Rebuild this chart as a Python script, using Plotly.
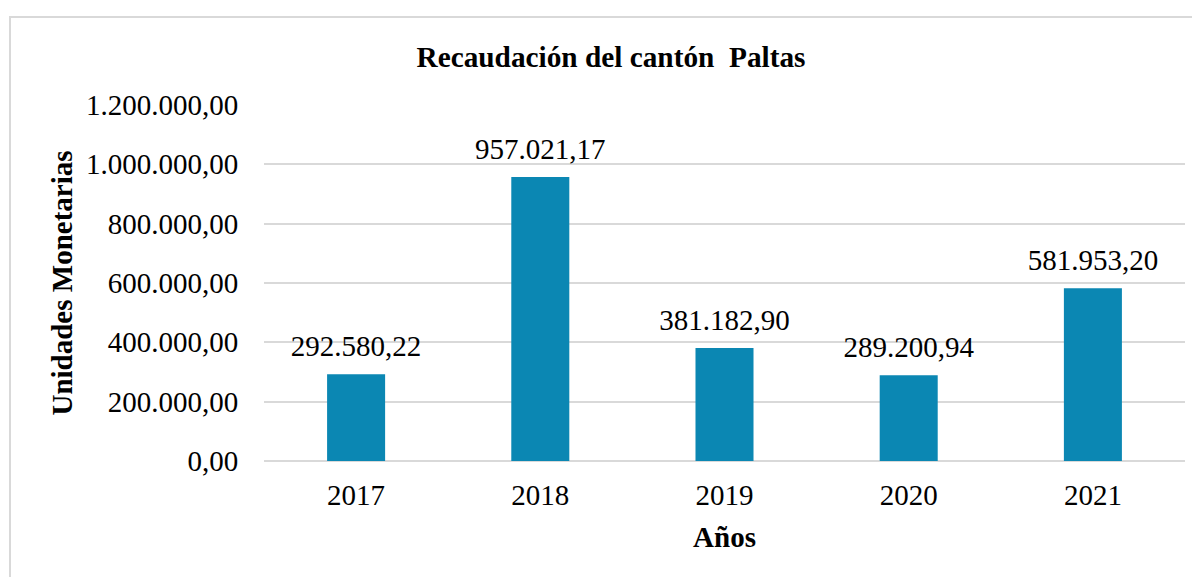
import plotly.graph_objects as go

years = ["2017", "2018", "2019", "2020", "2021"]
values = [292580.22, 957021.17, 381182.90, 289200.94, 581953.20]
tick_vals = [0, 200000, 400000, 600000, 800000, 1000000, 1200000]

FONT = "Liberation Serif, Times New Roman, serif"
BAR = "#0B87B3"
GRID = "#d9d9d9"
OFF = 8  # page body margin

fig = go.Figure()
fig.add_trace(go.Bar(
    x=years, y=values,
    marker=dict(color=BAR, line=dict(width=0)),
    hoverinfo="skip",
))
fig.add_trace(go.Scatter(
    x=years, y=values, mode="markers+text",
    marker=dict(size=16, color="rgba(0,0,0,0)"),
    texttemplate="%{y:,.2f}", textposition="top center",
    textfont=dict(family=FONT, size=29, color="#000000"),
    cliponaxis=False, hoverinfo="skip",
))

W, H = 1200, 577
L, T = 264 - OFF, 105 - OFF
pw, ph = 921, 356
R = W - L - pw
B = H - T - ph

fig.update_layout(
    width=W, height=H,
    margin=dict(l=L, r=R, t=T, b=B),
    paper_bgcolor="white", plot_bgcolor="white",
    separators=",.",
    bargap=0.685,
    showlegend=False,
    font=dict(family=FONT, color="#000000"),
    title=dict(text="<b>Recaudación del cantón&nbsp; Paltas</b>", x=(611 - OFF) / W, xanchor="center",
               y=1 - (57 - OFF) / H, yanchor="middle",
               font=dict(family=FONT, size=29.3, color="#000000")),
    xaxis=dict(showgrid=False, showline=False, ticks="outside", ticklen=8, tickcolor="rgba(0,0,0,0)",
               tickfont=dict(family=FONT, size=29, color="#000000"),
               title=dict(text="<b>Años</b>", font=dict(family=FONT, size=29, color="#000000"), standoff=16)),
    yaxis=dict(range=[0, 1200000], tickvals=tick_vals, tickformat=",.2f",
               showgrid=True, gridcolor=GRID, gridwidth=1.5,
               zeroline=True, zerolinecolor=GRID, zerolinewidth=1.5,
               showline=False, ticks="outside", ticklen=19, tickcolor="rgba(0,0,0,0)",
               tickfont=dict(family=FONT, size=29, color="#000000"),
               title=dict(text="<b>Unidades Monetarias</b>", font=dict(family=FONT, size=29, color="#000000"), standoff=4)),
    shapes=[dict(type="rect", xref="paper", yref="paper",
                 x0=(10 - OFF - L) / pw, x1=1.2, y0=-0.6, y1=1 + (T - (17 - OFF)) / ph,
                 line=dict(color=GRID, width=2), fillcolor="rgba(0,0,0,0)", layer="below")],
)

fig.write_html("out.html")
